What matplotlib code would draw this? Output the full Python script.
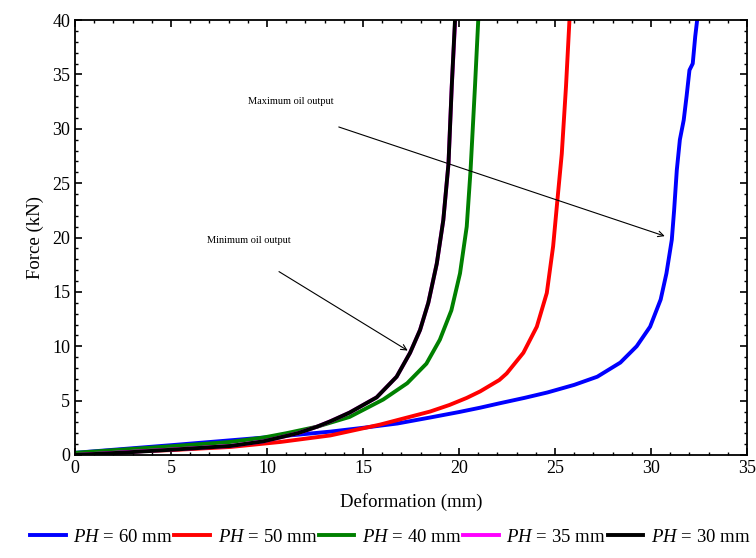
import matplotlib
matplotlib.use('Agg')
import matplotlib.pyplot as plt
from matplotlib.ticker import MultipleLocator

plt.rcParams['font.family'] = 'Liberation Serif'
plt.rcParams['mathtext.fontset'] = 'custom'
plt.rcParams['mathtext.it'] = 'Liberation Serif:italic'
plt.rcParams['mathtext.rm'] = 'Liberation Serif'

# ===== DATA =====
labels = ['60', '50', '40', '35', '30']
colors = ['blue', 'red', 'green', 'magenta', 'black']

x_60 = [0, 2.5, 5, 8.1, 9.8, 11.5, 13.3, 15.0, 16.8, 18.5, 20.0, 21.1, 22.1, 23.4, 24.6, 26.0, 27.2,
        28.4, 29.25, 29.95, 30.5, 30.8, 31.08, 31.2, 31.34, 31.5, 31.7, 31.85, 32.0, 32.17, 32.3, 32.4]
f_60 = [0.2, 0.55, 0.9, 1.35, 1.6, 1.85, 2.15, 2.5, 2.9, 3.45, 3.95, 4.35, 4.75, 5.25, 5.75, 6.45, 7.2,
        8.5, 10.0, 11.8, 14.3, 16.7, 19.8, 22.5, 26.2, 29.0, 30.8, 33.0, 35.4, 36.0, 38.5, 40]

x_50 = [0, 2.5, 5, 8.1, 10.7, 13.3, 15.9, 18.5, 19.5, 20.4, 21.1, 22.1, 22.48, 23.35, 23.7, 24.05,
        24.57, 24.9, 25.12, 25.35, 25.57, 25.75]
f_50 = [0.1, 0.3, 0.45, 0.74, 1.2, 1.8, 2.8, 4.0, 4.6, 5.25, 5.85, 6.9, 7.5, 9.4, 10.6, 11.8,
        14.9, 19.2, 23.4, 27.7, 33.9, 40]

x_40 = [0, 2.5, 5, 8.1, 9.8, 11.0, 12.6, 14.3, 16.05, 17.3, 18.3, 19.0, 19.6, 20.05, 20.4, 20.6, 20.83, 21.0]
f_40 = [0.2, 0.5, 0.8, 1.2, 1.6, 2.0, 2.6, 3.5, 5.1, 6.6, 8.4, 10.6, 13.3, 16.7, 21.0, 26.2, 33.9, 40]

x_35 = [0, 2.5, 5, 8.1, 9.8, 11.6, 12.6, 13.3, 14.3, 15.71, 16.75, 17.45, 17.97, 18.4, 18.84, 19.18, 19.45, 19.62, 19.8]
f_35 = [0.0, 0.25, 0.5, 0.83, 1.25, 2.0, 2.6, 3.1, 3.9, 5.3, 7.2, 9.4, 11.5, 14.0, 17.6, 21.6, 26.8, 33.9, 40]

x_30 = [0, 2.5, 5, 8.1, 9.8, 11.6, 12.6, 13.3, 14.3, 15.71, 16.75, 17.45, 17.97, 18.4, 18.84, 19.18, 19.45, 19.62, 19.79]
f_30 = [0.0, 0.22, 0.48, 0.83, 1.25, 2.0, 2.6, 3.1, 3.9, 5.3, 7.2, 9.4, 11.5, 14.0, 17.6, 21.6, 26.8, 33.9, 40]

xs = [x_60, x_50, x_40, x_35, x_30]
fs = [f_60, f_50, f_40, f_35, f_30]

# ===== CHART =====
fig = plt.figure(figsize=(7.56, 5.58), dpi=100)
ax = fig.add_axes([0.0992, 0.1846, 0.889, 0.7794])

for x, f, lab, c in zip(xs, fs, labels, colors):
    ax.plot(x, f, color=c, linewidth=2.8, label=r'$PH$ = ' + lab + ' mm')

ax.set_xlim(0, 35)
ax.set_ylim(0, 40)
ax.xaxis.set_major_locator(MultipleLocator(5))
ax.xaxis.set_minor_locator(MultipleLocator(1))
ax.yaxis.set_major_locator(MultipleLocator(5))
ax.yaxis.set_minor_locator(MultipleLocator(1))
ax.tick_params(which='both', direction='in', top=True, right=True, labelsize=13)
ax.tick_params(which='major', length=5, width=1.2)
ax.tick_params(which='minor', length=2.5, width=1)
for s in ax.spines.values():
    s.set_linewidth(1.3)

ax.set_xlabel('Deformation (mm)', fontsize=13.5, labelpad=12)
ax.set_ylabel('Force (kN)', fontsize=13.5, labelpad=6)

ax.annotate('', xy=(30.85, 20.05), xytext=(13.6, 30.25),
            arrowprops=dict(arrowstyle='->', color='black', lw=0.8))
ax.text(9.0, 32.55, 'Maximum oil output', fontsize=7.5, va='center')
ax.annotate('', xy=(17.45, 9.47), xytext=(10.5, 17.0),
            arrowprops=dict(arrowstyle='->', color='black', lw=0.8))
ax.text(6.9, 19.7, 'Minimum oil output', fontsize=7.5, va='center')

fig.legend(loc='lower center', bbox_to_anchor=(0.516, -0.008), ncol=5, frameon=False,
           fontsize=13.5, handlelength=1.9, handletextpad=0.4, columnspacing=0.1)

plt.savefig('out.png', dpi=100)
